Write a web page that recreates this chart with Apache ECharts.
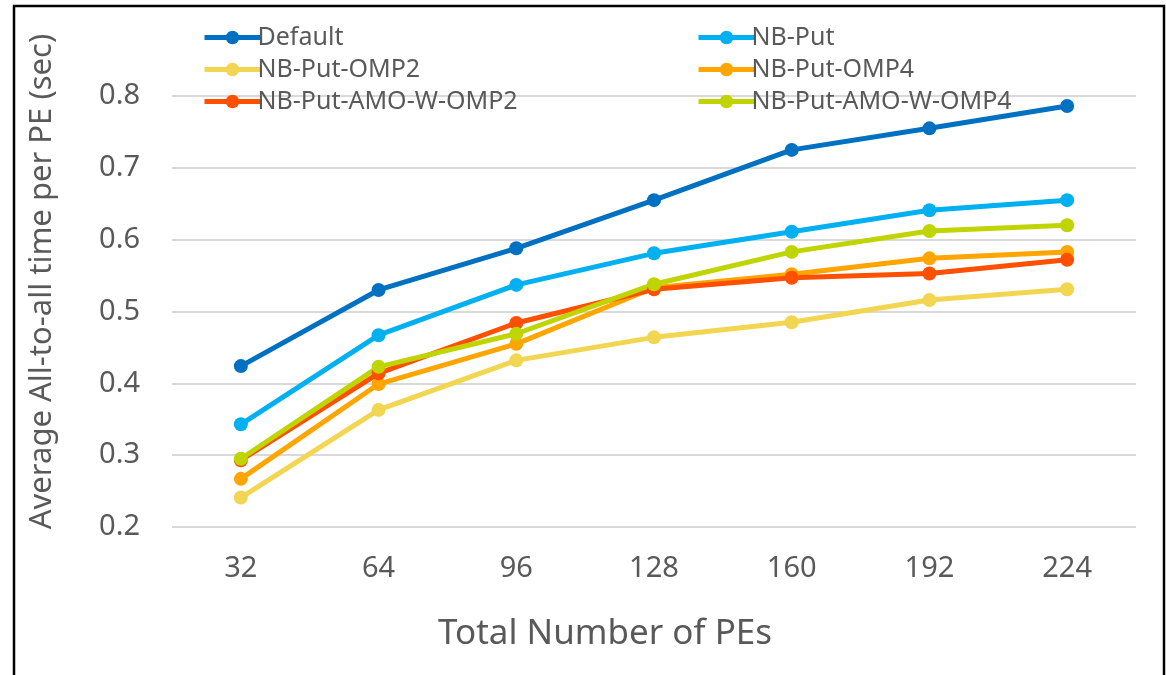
<!DOCTYPE html>
<html>
<head>
<meta charset="utf-8">
<script src="https://cdn.jsdelivr.net/npm/echarts@6/dist/echarts.min.js"></script>
<style>html,body{margin:0;padding:0;background:#fff}#c{width:1166px;height:675px}</style>
</head>
<body>
<div id="c"></div>
<script>
const categories = ['32','64','96','128','160','192','224'];
const seriesNames = ['Default','NB-Put','NB-Put-OMP2','NB-Put-OMP4','NB-Put-AMO-W-OMP2','NB-Put-AMO-W-OMP4'];
const defaultVals = [0.424,0.530,0.588,0.655,0.725,0.755,0.786];
const nbPut = [0.343,0.467,0.537,0.581,0.611,0.641,0.655];
const nbPutOmp2 = [0.241,0.363,0.432,0.464,0.485,0.516,0.531];
const nbPutOmp4 = [0.267,0.399,0.455,0.533,0.552,0.574,0.583];
const nbPutAmoOmp2 = [0.293,0.414,0.484,0.531,0.547,0.553,0.572];
const nbPutAmoOmp4 = [0.295,0.423,0.469,0.538,0.583,0.612,0.620];
const yTicks = [0.2,0.3,0.4,0.5,0.6,0.7,0.8];

const colors = ['#0070C0','#00B0F0','#F2D550','#FFA500','#FF5000','#C0D400'];
const allData = [defaultVals,nbPut,nbPutOmp2,nbPutOmp4,nbPutAmoOmp2,nbPutAmoOmp4];
const font = '"Noto Sans", "Open Sans", sans-serif';
const txt = '#595959';

const chart = echarts.init(document.getElementById('c'));
const legendCommon = {
  orient:'vertical', itemWidth:56, itemHeight:17, itemGap:7,
  lineStyle:{width:5},
  textStyle:{fontFamily:font, fontSize:25, color:txt, padding:[0,0,0,-8]}
};
chart.setOption({
  animation:false,
  graphic:[{type:'rect', shape:{x:14,y:6,width:1150,height:700}, style:{fill:'none',stroke:'#000',lineWidth:2.5}, z:100}],
  legend:[
    Object.assign({left:197, top:20, data:[seriesNames[0],seriesNames[2],seriesNames[4]]}, legendCommon),
    Object.assign({left:691, top:20, data:[seriesNames[1],seriesNames[3],seriesNames[5]]}, legendCommon)
  ],
  grid:{left:172, right:30, top:96, bottom:148},
  xAxis:{
    type:'category', data:categories, boundaryGap:true,
    name:'Total Number of PEs', nameLocation:'middle', nameGap:90,
    nameTextStyle:{fontFamily:font, fontSize:35, color:txt, padding:[0,98,0,0]},
    axisLine:{show:false}, axisTick:{show:false},
    axisLabel:{fontFamily:font, fontSize:29, color:txt, margin:27}
  },
  yAxis:{
    type:'value', min:yTicks[0], max:yTicks[yTicks.length-1], interval:0.1,
    name:'Average All-to-all time per PE (sec)', nameLocation:'middle', nameGap:114,
    nameTextStyle:{fontFamily:font, fontSize:31, color:txt, padding:[0,0,0,60]},
    axisLine:{show:false}, axisTick:{show:false},
    axisLabel:{fontFamily:font, fontSize:29, color:txt, margin:32, formatter:v=>v.toFixed(1)},
    splitLine:{lineStyle:{color:'#D9D9D9', width:2}}
  },
  series: seriesNames.map((n,i)=>({
    name:n, type:'line', data:allData[i], symbol:'circle', symbolSize:14,
    color:colors[i], lineStyle:{width:5, color:colors[i]}, itemStyle:{color:colors[i]}
  }))
});
</script>
</body>
</html>
